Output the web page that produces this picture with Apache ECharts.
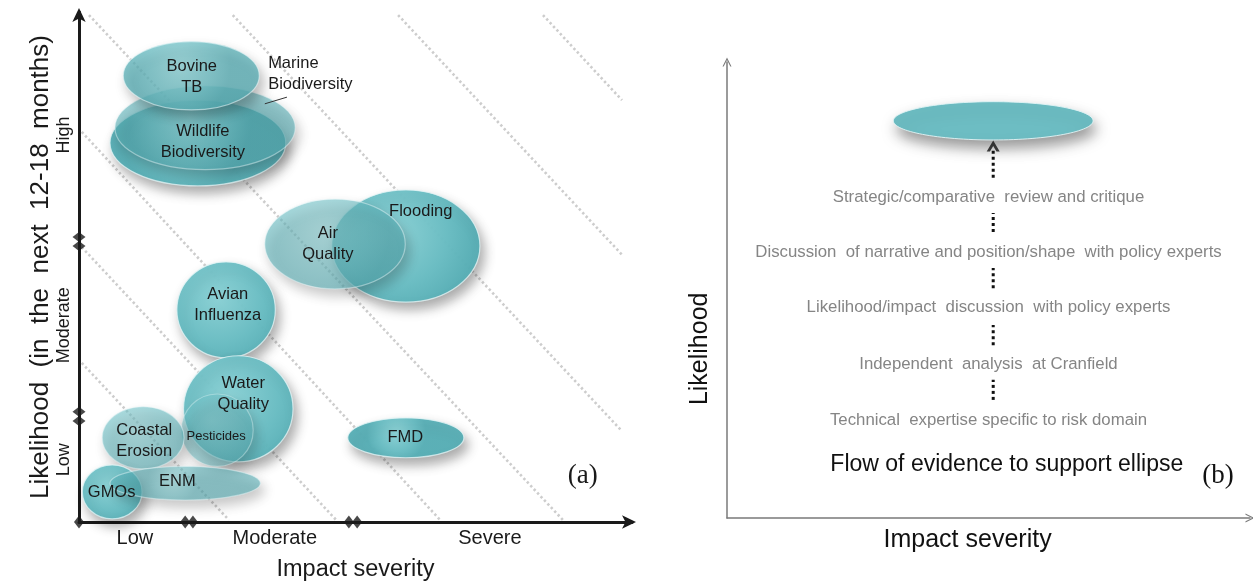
<!DOCTYPE html>
<html><head><meta charset="utf-8">
<script src="https://cdn.jsdelivr.net/npm/echarts@6/dist/echarts.min.js"></script>
<style>html,body{margin:0;padding:0;background:#fff}#c{width:1253px;height:583px}</style>
</head><body><div id="c"></div>
<script>
// ---------- Panel (a): risk ellipses (impact 0-100, likelihood 0-100) ----------
const riskNames = ['Wildlife\nBiodiversity','Marine\nBiodiversity','Bovine\nTB','Flooding','Air\nQuality','Avian\nInfluenza','Water\nQuality','Pesticides','Coastal\nErosion','GMOs','ENM','FMD'];
const impactCenter      = [21.5, 22.8, 20.3, 59.1, 46.3, 26.6, 28.8, 25.0, 11.6,  6.0, 19.2, 59.1];
const likelihoodCenter  = [74.3, 77.3, 87.5, 54.1, 54.5, 41.6, 22.2, 18.0, 16.5,  5.9,  7.6, 16.5];
const impactHalfRange   = [15.9, 16.3, 12.3, 13.4, 12.7,  8.9,  9.9,  6.5,  7.4,  5.4, 13.6, 10.5];
const likelihoodHalfRange=[ 8.4,  8.2,  6.7, 11.0,  8.8,  9.4, 10.4,  7.1,  6.1,  5.3,  3.3,  3.9];
const riskLabelX = [22.4, 34.2, 20.4, 61.8, 45.0, 26.9, 29.7, 24.8, 11.8,  5.9, 17.8, 59.0];
const riskLabelY = [74.5, 87.8, 87.3, 60.8, 54.5, 42.5, 25.1, 16.7, 15.9,  5.7,  8.0, 16.5];

const impactTicks = ['Low','Moderate','Severe'];
const impactTickPos = [10.1, 35.4, 74.3];
const likelihoodTicks = ['Low','Moderate','High'];
const likelihoodTickPos = [12.2, 38.6, 75.9];
const impactBreaks = [0, 19.2, 20.6, 48.8, 50.3];
const likelihoodBreaks = [19.8, 21.6, 54.1, 55.9];
const bandLineStart = [[0.5,31.2],[0.5,53.9],[0.5,76.5],[1.8,99.4],[27.8,99.4],[57.7,99.4],[83.9,99.4]];
const bandLineEnd   = [[27.1,0.4],[46.5,0.4],[65.3,0.4],[87.5,0.4],[98.2,17.8],[98.2,52.4],[98.2,82.7]];
const leaderLine = [[33.6,82.0],[37.6,83.3]];

// ---------- Panel (b): evidence flow ----------
const evidenceSteps = ['Strategic/comparative  review and critique','Discussion  of narrative and position/shape  with policy experts','Likelihood/impact  discussion  with policy experts','Independent  analysis  at Cranfield','Technical  expertise specific to risk domain'];
const evidenceStepY = [70.4, 58.3, 46.1, 33.8, 21.5];
const evidenceX = 50.0;
const linkX = 50.9;
const evidenceLinks = [[74.6, 80.6],[62.7, 66.9],[50.4, 54.8],[37.9, 42.3],[25.9, 30.3]];
const arrowTip = [50.9, 81.6];
const targetEllipse = [50.9, 87.1, 19.1, 4.2];
const flowCaption = 'Flow of evidence to support ellipse';

const faint = new Set(['Marine\nBiodiversity','Air\nQuality','Pesticides','Coastal\nErosion','ENM','Bovine\nTB']);
const SANS = '"Liberation Sans", Arial, sans-serif';
const SERIF = '"Liberation Serif", "Times New Roman", serif';

function tealFill(){
  return new echarts.graphic.RadialGradient(0.42, 0.38, 0.72, [
    {offset:0, color:'#8ad2d6'},{offset:0.65, color:'#69bec4'},{offset:1, color:'#58b0b7'}]);
}
function opacityOf(n){
  if (n==='Pesticides') return 0.5;
  if (n==='Bovine\nTB') return 0.75;
  return faint.has(n) ? 0.6 : 0.96;
}
const chevron = 'path://M0,12 L6,0 L12,12 L10.4,12 L6,3.2 L1.6,12 Z';
const boldChevron = 'path://M0,10 L6,0 L12,10 L9,10 L6,5 L3,10 Z';

const series = [];
bandLineStart.forEach((s, i) => {
  series.push({type:'line', xAxisIndex:0, yAxisIndex:0, data:[s, bandLineEnd[i]], symbol:'none', silent:true, z:1,
    lineStyle:{color:'#cdcdcd', width:2.6, type:[2.4,2.6]}});
});
series.push({type:'custom', xAxisIndex:0, yAxisIndex:0, z:3,
  data: riskNames.map((n,i)=>[impactCenter[i], likelihoodCenter[i], impactHalfRange[i], likelihoodHalfRange[i]]),
  renderItem(params, api){
    const c = api.coord([api.value(0), api.value(1)]);
    const s = api.size([api.value(2), api.value(3)]);
    const n = riskNames[params.dataIndex];
    return {type:'ellipse', shape:{cx:c[0], cy:c[1], rx:s[0], ry:s[1]},
      style:{fill:tealFill(), stroke:'rgba(225,245,246,0.8)', lineWidth:1.2, opacity:opacityOf(n),
        shadowBlur:12, shadowOffsetX:4, shadowOffsetY:7, shadowColor:'rgba(0,0,0,0.35)'}};
  }});
series.push({type:'line', xAxisIndex:0, yAxisIndex:0, data:leaderLine, symbol:'none', silent:true, z:5,
  lineStyle:{color:'#333', width:1}});
series.push({type:'custom', xAxisIndex:0, yAxisIndex:0, z:6,
  data: riskNames.map((n,i)=>[riskLabelX[i], riskLabelY[i]]),
  renderItem(params, api){
    const p = api.coord([api.value(0), api.value(1)]);
    const n = riskNames[params.dataIndex];
    return {type:'text', x:p[0], y:p[1], style:{text:n, fill:'#1a1a1a',
      font:(n==='Pesticides'?'13px ':'16.5px ')+SANS, align:n.startsWith('Marine')?'left':'center',
      verticalAlign:'middle', lineHeight:21}};
  }});
series.push({type:'scatter', xAxisIndex:0, yAxisIndex:0, clip:false, z:8, silent:true,
  symbol:'diamond', symbolSize:[10,13], itemStyle:{color:'#1a1a1a'},
  data: impactBreaks.map(v=>[v,0])});
series.push({type:'scatter', xAxisIndex:0, yAxisIndex:0, clip:false, z:8, silent:true,
  symbol:'diamond', symbolSize:[13,10], itemStyle:{color:'#1a1a1a'},
  data: likelihoodBreaks.map(v=>[0,v])});
series.push({type:'custom', xAxisIndex:0, yAxisIndex:0, z:6, data:[[91.1, 9.0]],
  renderItem(params, api){
    const p = api.coord([api.value(0), api.value(1)]);
    return {type:'text', x:p[0], y:p[1], style:{text:'(a)', fill:'#1a1a1a', font:'27px '+SERIF, align:'center', verticalAlign:'middle'}};
  }});

// panel b
series.push({type:'custom', xAxisIndex:1, yAxisIndex:1, z:3, data:[targetEllipse],
  renderItem(params, api){
    const c = api.coord([api.value(0), api.value(1)]);
    const s = api.size([api.value(2), api.value(3)]);
    return {type:'ellipse', shape:{cx:c[0], cy:c[1], rx:s[0], ry:s[1]},
      style:{fill:'#6dbdc3', stroke:'rgba(225,245,246,0.9)', lineWidth:1,
        shadowBlur:14, shadowOffsetX:3, shadowOffsetY:8, shadowColor:'rgba(0,0,0,0.4)'}};
  }});
evidenceLinks.forEach(l => {
  series.push({type:'line', xAxisIndex:1, yAxisIndex:1, data:[[linkX,l[0]],[linkX,l[1]]], symbol:'none', silent:true, z:4,
    lineStyle:{color:'#111', width:3, type:[3,3]}});
});
series.push({type:'scatter', xAxisIndex:1, yAxisIndex:1, clip:false, z:5, silent:true,
  symbol:boldChevron, symbolSize:[13,11], itemStyle:{color:'#111'}, data:[arrowTip]});
series.push({type:'custom', xAxisIndex:1, yAxisIndex:1, z:6,
  data: evidenceSteps.map((t,i)=>[evidenceX, evidenceStepY[i]]),
  renderItem(params, api){
    const p = api.coord([api.value(0), api.value(1)]);
    return {type:'text', x:p[0], y:p[1], style:{text:evidenceSteps[params.dataIndex], fill:'#858585',
      font:'16.8px '+SANS, align:'center', verticalAlign:'middle'}};
  }});
series.push({type:'custom', xAxisIndex:1, yAxisIndex:1, z:6,
  data:[[53.5, 11.6, 0], [93.9, 9.2, 1], [-5.2, 37.1, 2], [46.0, -4.8, 3]],
  renderItem(params, api){
    const p = api.coord([api.value(0), api.value(1)]);
    const k = api.value(2);
    const txt = [flowCaption, '(b)', 'Likelihood', 'Impact severity'][k];
    const font = [ '23px '+SANS, '27px '+SERIF, '25px '+SANS, '25px '+SANS][k];
    return {type:'text', x:p[0], y:p[1], rotation: k===2?Math.PI/2:0,
      style:{text:txt, fill:'#111', font:font, align:'center', verticalAlign:'middle'}};
  }});

const chart = echarts.init(document.getElementById('c'), null, {renderer:'canvas'});
chart.setOption({
  animation:false,
  backgroundColor:'#fff',
  grid:[
    {left:79, top:12, width:553, height:510, containLabel:false, outerBoundsMode:'none'},
    {left:727, top:62, width:523, height:456, containLabel:false, outerBoundsMode:'none'}
  ],
  xAxis:[
    {type:'value', gridIndex:0, min:0, max:100, splitLine:{show:false}, axisTick:{show:false},
     axisLine:{show:true, symbol:['none','arrow'], symbolSize:[10,14], symbolOffset:[0,4], lineStyle:{color:'#1a1a1a', width:3}},
     axisLabel:{customValues:impactTickPos, formatter:v=>impactTicks[impactTickPos.indexOf(v)], fontSize:20, color:'#1a1a1a', fontFamily:SANS, margin:6},
     name:'Impact severity', nameLocation:'middle', nameGap:36, nameTextStyle:{fontSize:23.5, color:'#1a1a1a', fontFamily:SANS}},
    {type:'value', gridIndex:1, min:0, max:100, splitLine:{show:false}, axisTick:{show:false}, axisLabel:{show:false},
     axisLine:{show:true, symbol:['none',chevron], symbolSize:[9,10], lineStyle:{color:'#7a7a7a', width:1.5}}}
  ],
  yAxis:[
    {type:'value', gridIndex:0, min:0, max:100, splitLine:{show:false}, axisTick:{show:false},
     axisLine:{show:true, symbol:['none','arrow'], symbolSize:[10,14], symbolOffset:[0,4], lineStyle:{color:'#1a1a1a', width:3}},
     axisLabel:{customValues:likelihoodTickPos, formatter:v=>likelihoodTicks[likelihoodTickPos.indexOf(v)], rotate:90, fontSize:18, color:'#1a1a1a', fontFamily:SANS, margin:6},
     name:'Likelihood  (in  the  next  12-18  months)', nameLocation:'middle', nameGap:25, nameRotate:90,
     nameTextStyle:{fontSize:26, color:'#1a1a1a', fontFamily:SANS, verticalAlign:'bottom'}},
    {type:'value', gridIndex:1, min:0, max:100, splitLine:{show:false}, axisTick:{show:false}, axisLabel:{show:false},
     axisLine:{show:true, symbol:['none',chevron], symbolSize:[9,10], lineStyle:{color:'#7a7a7a', width:1.5}}}
  ],
  series: series
});
</script></body></html>
